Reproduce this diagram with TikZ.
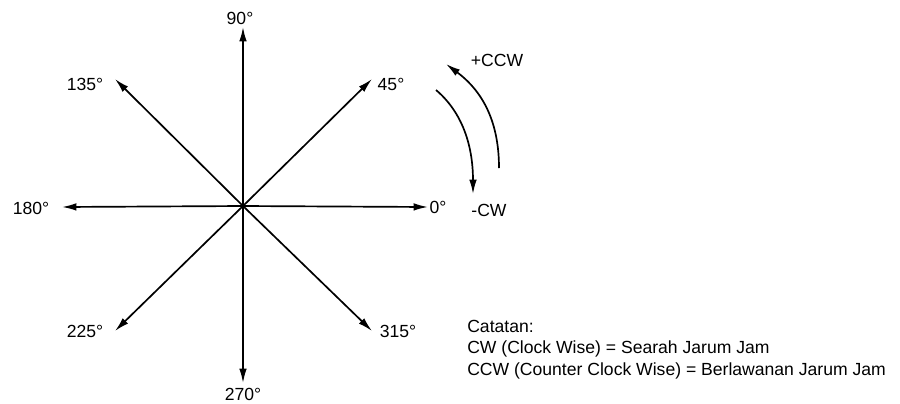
\documentclass[tikz,border=0pt]{standalone}
\usepackage{fontspec}
\setmainfont{Liberation Sans}
\usepackage{tikz}
\usetikzlibrary{arrows.meta, positioning, calc}

\begin{document}
\begin{tikzpicture}[
  x=0.025cm, y=-0.025cm,
  axis/.style={-{Latex[length=3.6mm, width=1.9mm]}, line width=1.2pt},
  turn/.style={-{Latex[length=3.6mm, width=1.9mm]}, line width=1.2pt},
  angle/.style={font=\fontsize{12.5}{15}\selectfont, inner sep=1pt},
  note/.style={font=\fontsize{12.5}{15}\selectfont, align=left, inner sep=0pt}
]
\useasboundingbox (0,0) rectangle (900,403);

% center and arrow ends
\coordinate (o) at (243,206);
\coordinate (e0) at (428,207);
\coordinate (e45) at (372,79);
\coordinate (e90) at (243,27);
\coordinate (e135) at (115,79);
\coordinate (e180) at (62,207);
\coordinate (e225) at (115,331);
\coordinate (e270) at (243,383);
\coordinate (e315) at (372,331);

\draw[axis] (o) -- (e0);
\draw[axis] (o) -- (e45);
\draw[axis] (o) -- (e90);
\draw[axis] (o) -- (e135);
\draw[axis] (o) -- (e180);
\draw[axis] (o) -- (e225);
\draw[axis] (o) -- (e270);
\draw[axis] (o) -- (e315);

% angle labels
\node[angle, right=0pt of e0] (l0) {0°};
\node[angle] (l45) at (391,84) {45°};
\node[angle] (l90) at (240,18) {90°};
\node[angle] (l135) at (85,84) {135°};
\node[angle] (l180) at (31,208) {180°};
\node[angle] (l225) at (85,331) {225°};
\node[angle] (l270) at (243,394) {270°};
\node[angle] (l315) at (398,331) {315°};

% rotation sense
\coordinate (cwa) at (436,90);
\coordinate (cwb) at (473,194);
\coordinate (ccwa) at (499,168);
\coordinate (ccwb) at (446,64);
\draw[turn] (cwa) .. controls (462,112) and (473,145) .. (cwb);
\draw[turn] (ccwa) .. controls (499,125) and (485,93) .. (ccwb);
\node[angle] (ccw) at (497,60) {+CCW};
\node[angle] (cw) at (489,210) {-CW};

% note
\node[note, anchor=west] (n1) at (467,326) {Catatan:};
\node[note, anchor=west] (n2) at (467,349) {CW (Clock Wise) = Searah Jarum Jam};
\node[note, anchor=west] (n3) at (467,371) {CCW (Counter Clock Wise) = Berlawanan Jarum Jam};
\end{tikzpicture}
\end{document}
